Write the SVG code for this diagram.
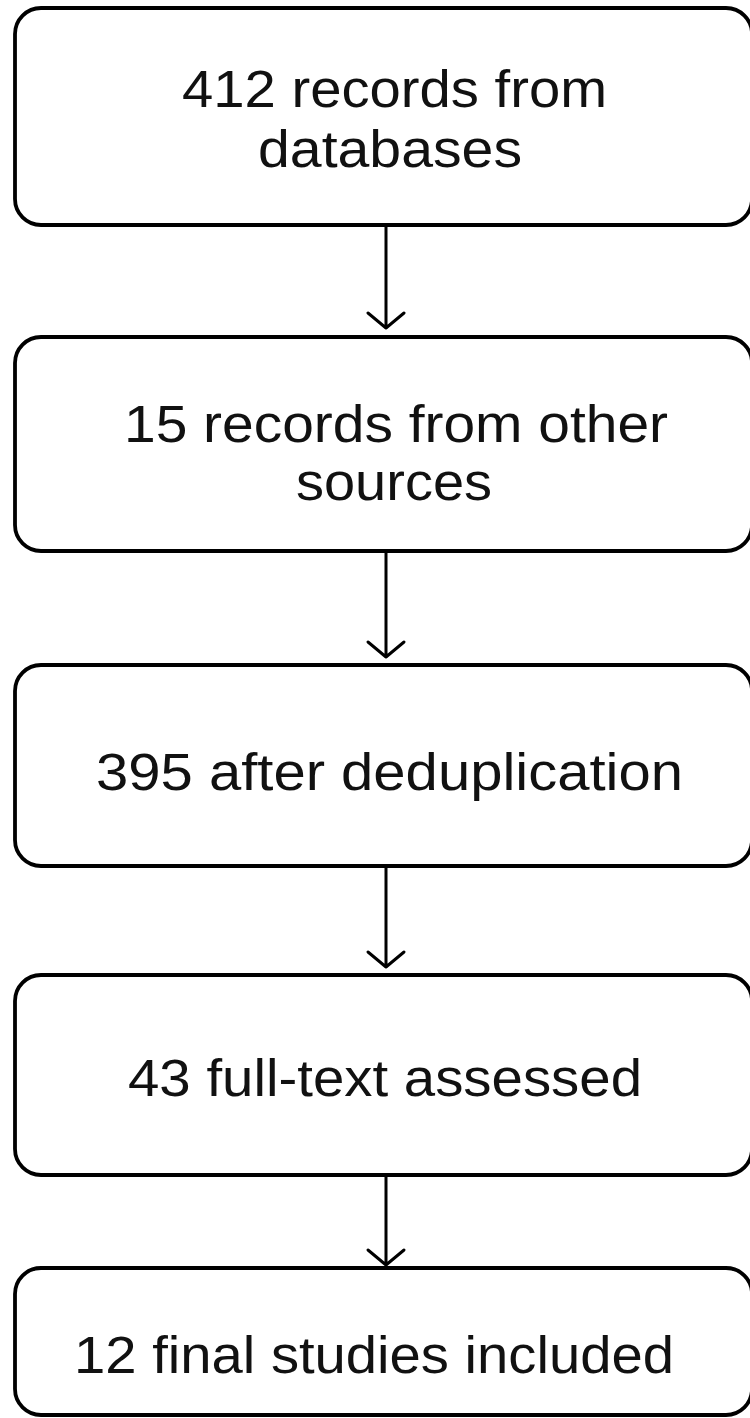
<svg xmlns="http://www.w3.org/2000/svg" width="750" height="1418" viewBox="0 0 750 1418">
<style>
.box{fill:#ffffff;stroke:#000000;stroke-width:3.8}
.lbl{font-family:"Liberation Sans",Arial,Helvetica,sans-serif;font-size:51px;fill:#111111}
.conn{fill:none;stroke:#000000;stroke-width:3;stroke-linecap:round;stroke-linejoin:round}
</style>
<rect x="0" y="0" width="750" height="1418" fill="#ffffff"/>
<g id="node1">
<rect class="box" x="15" y="8" width="737" height="217" rx="26" ry="26"/>
<text class="lbl" x="182" y="107" textLength="425" lengthAdjust="spacingAndGlyphs">412 records from</text>
<text class="lbl" x="258" y="167" textLength="264" lengthAdjust="spacingAndGlyphs">databases</text>
</g>
<g id="node2">
<rect class="box" x="15" y="337" width="737" height="214" rx="26" ry="26"/>
<text class="lbl" x="124" y="442" textLength="544" lengthAdjust="spacingAndGlyphs">15 records from other</text>
<text class="lbl" x="296" y="500" textLength="196" lengthAdjust="spacingAndGlyphs">sources</text>
</g>
<g id="node3">
<rect class="box" x="15" y="665" width="737" height="201" rx="26" ry="26"/>
<text class="lbl" x="96" y="790" textLength="587" lengthAdjust="spacingAndGlyphs">395 after deduplication</text>
</g>
<g id="node4">
<rect class="box" x="15" y="975" width="737" height="200" rx="26" ry="26"/>
<text class="lbl" x="128" y="1096" textLength="514" lengthAdjust="spacingAndGlyphs">43 full-text assessed</text>
</g>
<g id="node5">
<rect class="box" x="15" y="1268" width="737" height="147" rx="26" ry="26"/>
<text class="lbl" x="74" y="1373" textLength="600" lengthAdjust="spacingAndGlyphs">12 final studies included</text>
</g>
<g id="connectors">
<path class="conn" d="M386 226 V328 M368 313 L386 328 L404 313"/>
<path class="conn" d="M386 552 V657 M368 642 L386 657 L404 642"/>
<path class="conn" d="M386 867 V967 M368 952 L386 967 L404 952"/>
<path class="conn" d="M386 1176 V1265 M368 1250 L386 1265 L404 1250"/>
</g>
</svg>
